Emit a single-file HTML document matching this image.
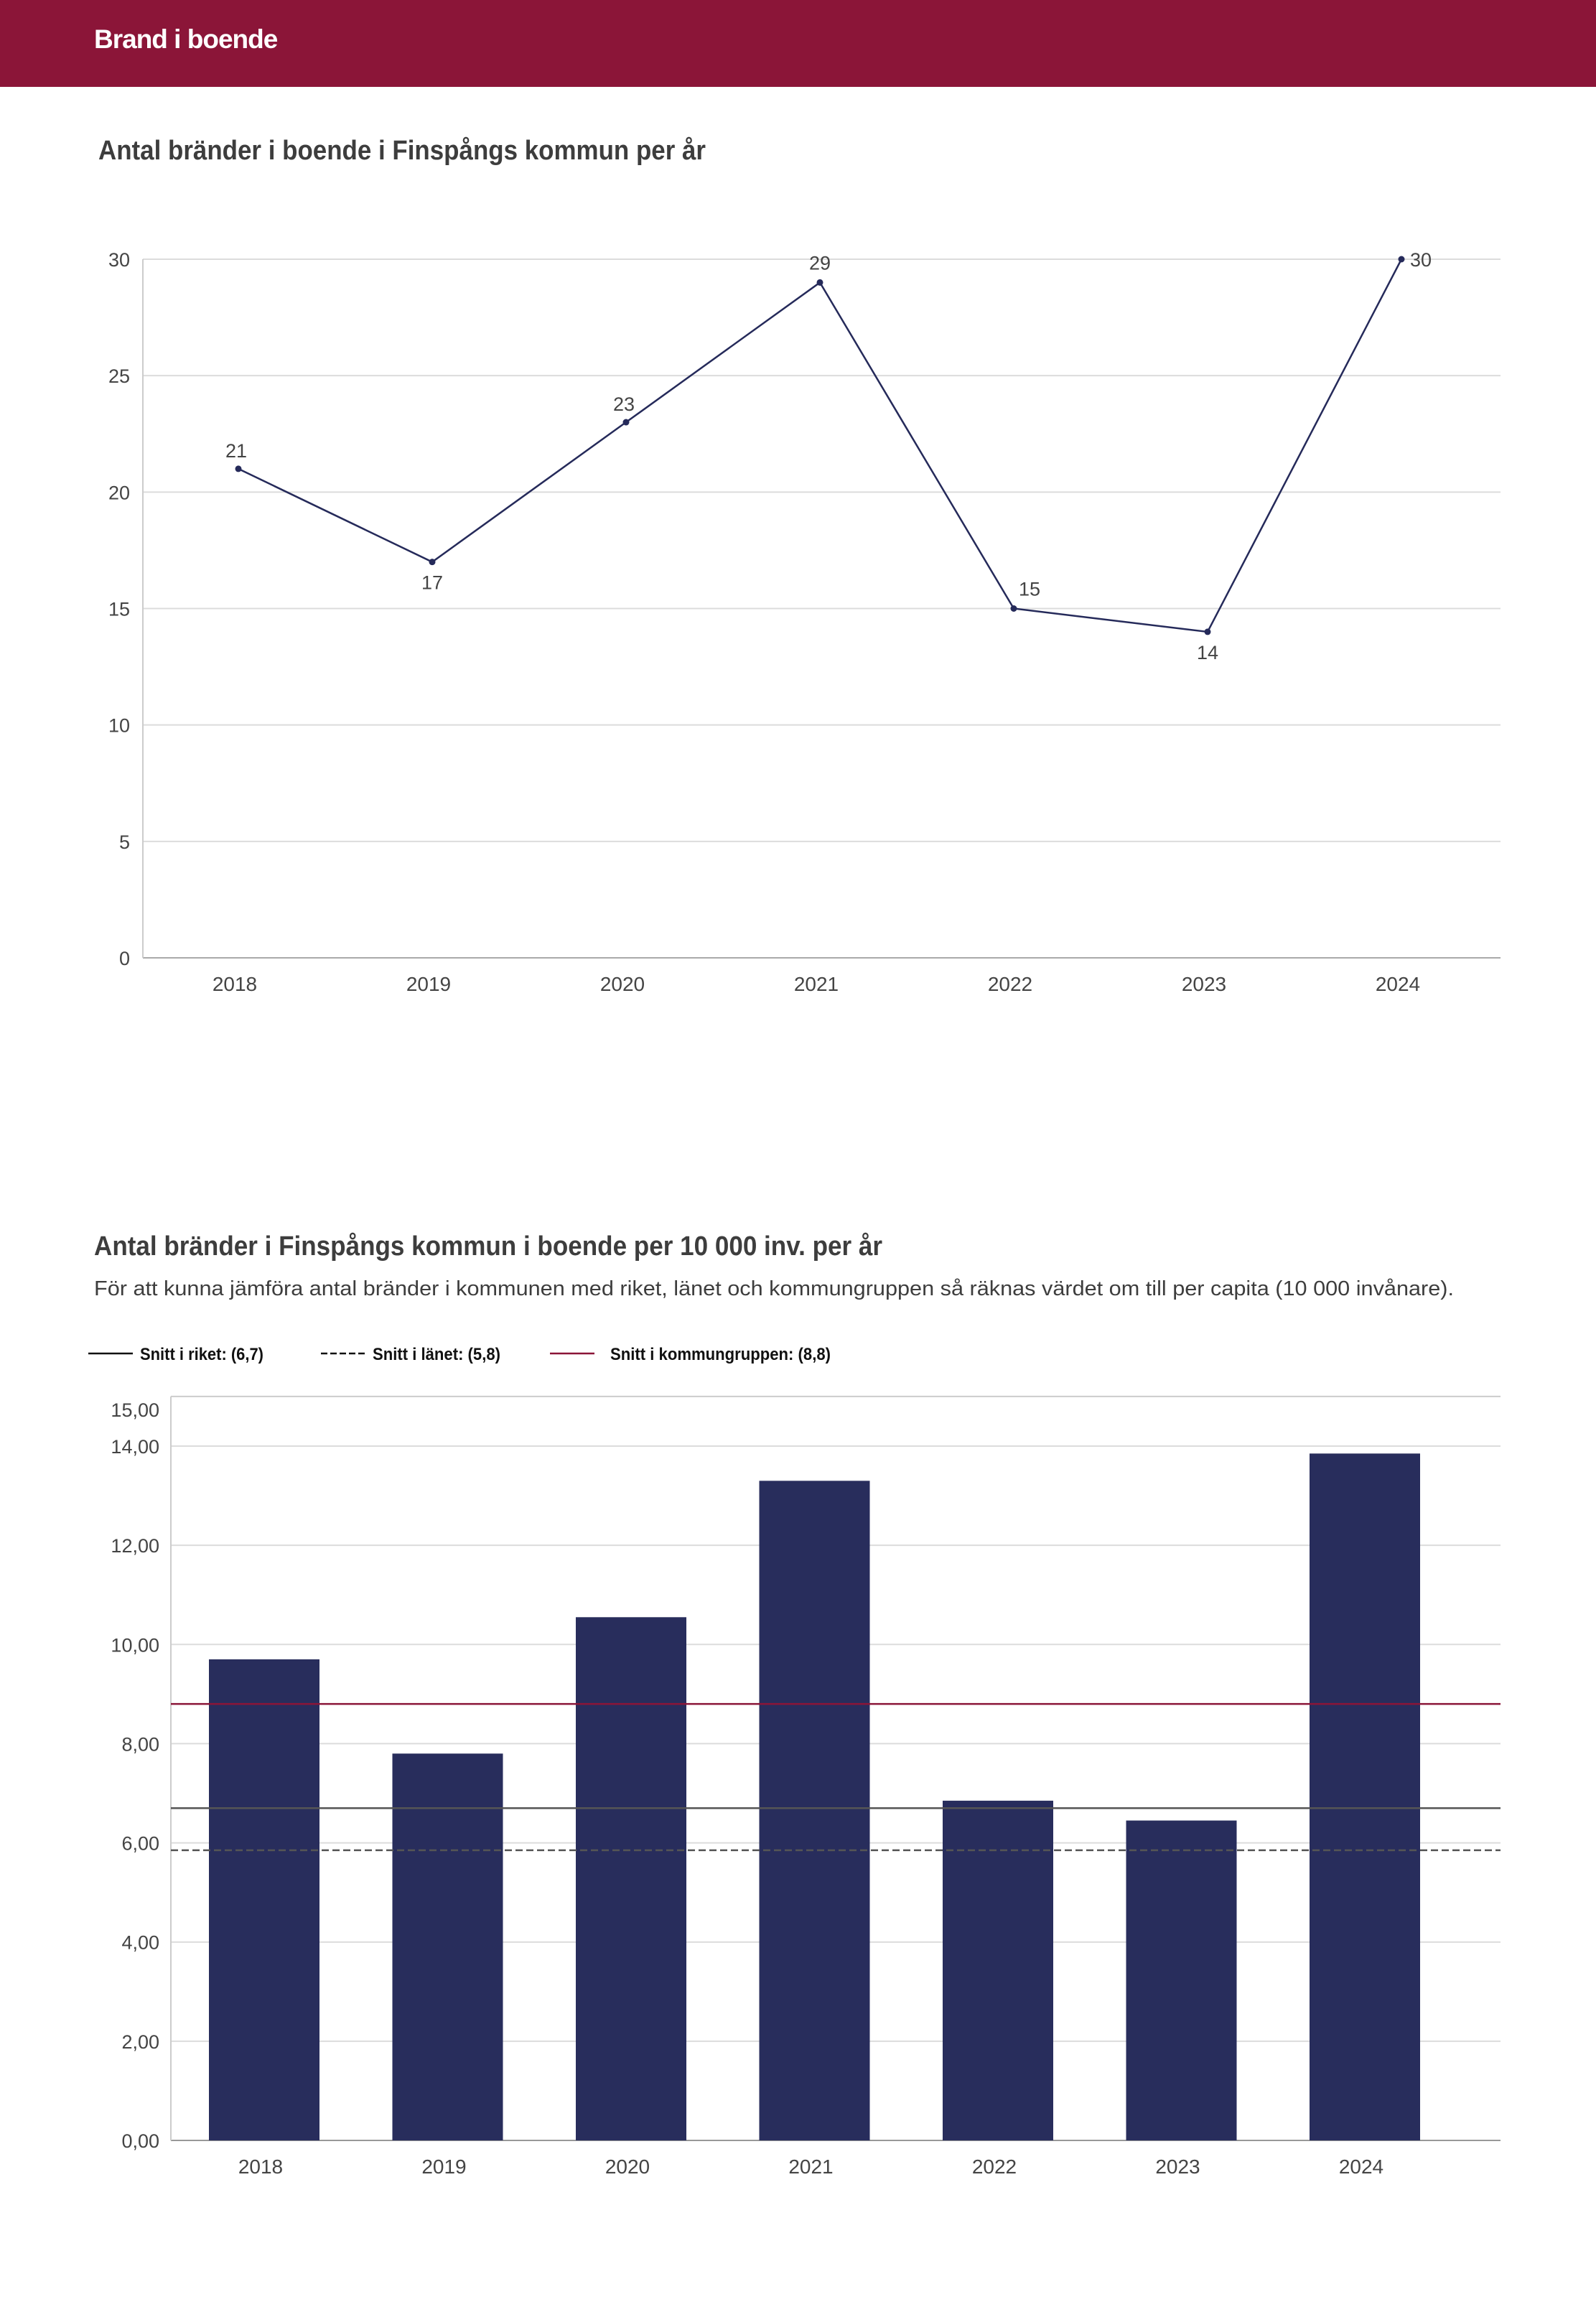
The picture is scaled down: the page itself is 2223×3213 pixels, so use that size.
<!DOCTYPE html>
<html><head><meta charset="utf-8">
<style>
html,body{margin:0;padding:0;background:#fff;}
body{width:2223px;height:3213px;position:relative;overflow:hidden;font-family:"Liberation Sans",sans-serif;}
#header{position:absolute;left:0;top:0;width:2223px;height:121px;background:#8b1538;}
#header span{position:absolute;left:131px;top:34px;color:#fff;font-size:37px;font-weight:bold;letter-spacing:-1px;}
svg{position:absolute;left:0;top:0;}
text{font-family:"Liberation Sans",sans-serif;}
</style></head>
<body>
<div id="header"><span>Brand i boende</span></div>
<svg id="chart" width="2223" height="3213">
<text x="137" y="222" font-size="38" font-weight="bold" fill="#3d3d3d" textLength="846" lengthAdjust="spacingAndGlyphs">Antal bränder i boende i Finspångs kommun per år</text>
<text x="131" y="1748" font-size="38" font-weight="bold" fill="#3d3d3d" textLength="1098" lengthAdjust="spacingAndGlyphs">Antal bränder i Finspångs kommun i boende per 10 000 inv. per år</text>
<text x="131" y="1804" font-size="29" fill="#3d3d3d" textLength="1894" lengthAdjust="spacingAndGlyphs">För att kunna jämföra antal bränder i kommunen med riket, länet och kommungruppen så räknas värdet om till per capita (10 000 invånare).</text>
<g id="g1"></g>
<g id="g2"></g>
</svg>
<script>
const years = ["2018","2019","2020","2021","2022","2023","2024"];
const fireCounts = [21,17,23,29,15,14,30];
const labelPlacement = ["above","below","above","above","above","below","right"];
const yTicks1 = [0,5,10,15,20,25,30];
const perCapita = [9.7,7.8,10.55,13.3,6.85,6.45,13.85];
const yTicks2 = [0,2,4,6,8,10,12,14];
const refNames = ["Snitt i riket: (6,7)","Snitt i länet: (5,8)","Snitt i kommungruppen: (8,8)"];
const refValues = [6.7,5.85,8.8];

const NS="http://www.w3.org/2000/svg";
function mk(parent,tag,attrs,txt){const e=document.createElementNS(NS,tag);for(const k in attrs)e.setAttribute(k,attrs[k]);if(txt!==undefined)e.textContent=txt;parent.appendChild(e);return e;}

// Line chart
const g1=document.getElementById('g1');
const x1=i=>332+i*270;
const y1=v=>1334-v*(973/30);
yTicks1.forEach(t=>{
  const l=mk(g1,'line',{x1:199,x2:2090,y1:y1(t),y2:y1(t),stroke:t===0?'#aaa':'#dcdcdc','stroke-width':2});
  
  
  const tx=mk(g1,'text',{x:181,y:y1(t)+10,'font-size':27,fill:'#444','text-anchor':'end'},String(t));
  
  
});
const ax=mk(g1,'line',{x1:199,x2:199,y1:y1(30),y2:y1(0),stroke:'#ccc','stroke-width':2});


years.forEach((yr,i)=>{
  const t=mk(g1,'text',{x:x1(i)-5,y:1380,'font-size':28,fill:'#444','text-anchor':'middle'},yr);
  
  
});
const pl=mk(g1,'polyline',{points:fireCounts.map((v,i)=>x1(i)+','+y1(v)).join(' '),fill:'none',stroke:'#252a5a','stroke-width':2.5});


fireCounts.forEach((v,i)=>{
  const c=mk(g1,'circle',{cx:x1(i),cy:y1(v),r:4.5,fill:'#252a5a'});
  
  
  const p=labelPlacement[i];
  let lx=x1(i),ly=y1(v)-18,anc='middle';
  if(p==='below'){ly=y1(v)+38;}
  if(p==='right'){lx=x1(i)+12;ly=y1(v)+10;anc='start';}
  if(p==='above'&&i===4){lx=x1(i)+22;}
  if(p==='above'&&(i===0||i===2)){lx=x1(i)-3;ly=y1(v)-16;}
  const t=mk(g1,'text',{x:lx,y:ly,'font-size':27,fill:'#444','text-anchor':anc},String(v));
  
  
});

// Bar chart
const g2=document.getElementById('g2');
const x2=i=>368+i*255.5;
const y2=v=>2981-v*(967/14);
const legX=[123,447,766];
refNames.forEach((n,i)=>{
  const st=i===2?'#8b1538':'#111';
  const l=mk(g2,'line',{x1:legX[i],x2:legX[i]+62,y1:1885,y2:1885,stroke:st,'stroke-width':2.5});
  if(i===1)l.setAttribute('stroke-dasharray','9,4');
  
  
  const t=mk(g2,'text',{x:legX[i]+72+(i===2?12:0),y:1894,'font-size':24,'font-weight':'bold',fill:'#111',textLength:i===0?172:(i===1?178:307),lengthAdjust:'spacingAndGlyphs'},n);
  
  
});
const plotTop=mk(g2,'line',{x1:238,x2:2090,y1:y2(15),y2:y2(15),stroke:'#ccc','stroke-width':2});


const t15=mk(g2,'text',{x:222,y:y2(15)+28,'font-size':27,fill:'#444','text-anchor':'end'},'15,00');


yTicks2.forEach(t=>{
  const l=mk(g2,'line',{x1:238,x2:2090,y1:y2(t),y2:y2(t),stroke:t===0?'#999':'#dcdcdc','stroke-width':2});
  
  
  const tx=mk(g2,'text',{x:222,y:y2(t)+10,'font-size':27,fill:'#444','text-anchor':'end'},t.toFixed(2).replace('.',','));
  
  
});
const ax2=mk(g2,'line',{x1:238,x2:238,y1:y2(15),y2:y2(0),stroke:'#ccc','stroke-width':2});


perCapita.forEach((v,i)=>{
  const r=mk(g2,'rect',{x:x2(i)-77,y:y2(v),width:154,height:y2(0)-y2(v),fill:'#282d5c'});
  
  
  const t=mk(g2,'text',{x:x2(i)-5,y:3027,'font-size':28,fill:'#444','text-anchor':'middle'},years[i]);
  
  
});
refValues.forEach((v,i)=>{
  const st=i===2?'#8b1538':'#555';
  const l=mk(g2,'line',{x1:238,x2:2090,y1:y2(v),y2:y2(v),stroke:st,'stroke-width':2.5});
  if(i===1)l.setAttribute('stroke-dasharray','10,5');
  
  
});
</script>
</body></html>
